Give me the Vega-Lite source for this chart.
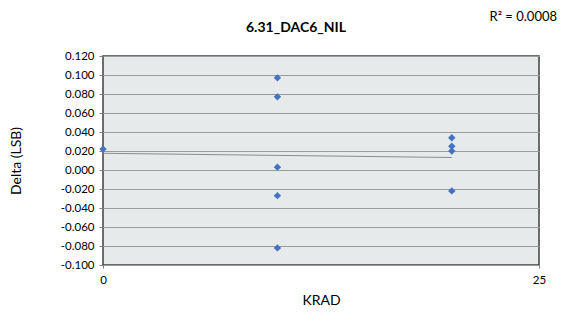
{
  "$schema": "https://vega.github.io/schema/vega-lite/v6.json",
  "width": 436,
  "height": 209,
  "autosize": {"type": "none"},
  "padding": {"left": 103, "top": 56, "right": 23, "bottom": 70},
  "background": "white",
  "title": {
    "text": "6.31_DAC6_NIL",
    "font": "Lato",
    "fontSize": 14,
    "fontWeight": "bold",
    "color": "#000000",
    "anchor": "middle",
    "frame": "group",
    "dx": -25,
    "offset": -24
  },
  "config": {
    "font": "Lato",
    "view": {"fill": "#E6EAEA", "stroke": "#404040", "strokeWidth": 1.5},
    "axis": {
      "labelFont": "Lato",
      "titleFont": "Lato",
      "labelColor": "#000000",
      "titleColor": "#000000",
      "labelFontSize": 11.5,
      "titleFontSize": 14,
      "titleFontWeight": "normal",
      "domain": false,
      "tickColor": "#7F7F7F",
      "tickSize": 4,
      "labelOverlap": false,
      "labelFlush": false
    }
  },
  "data": {
    "values": [
      {"krad": 0, "delta": 0.022},
      {"krad": 10, "delta": 0.097},
      {"krad": 10, "delta": 0.077},
      {"krad": 10, "delta": 0.003},
      {"krad": 10, "delta": -0.027},
      {"krad": 10, "delta": -0.082},
      {"krad": 20, "delta": 0.034},
      {"krad": 20, "delta": 0.025},
      {"krad": 20, "delta": 0.020},
      {"krad": 20, "delta": -0.022}
    ]
  },
  "layer": [
    {
      "transform": [{"regression": "delta", "on": "krad", "extent": [0, 20]}],
      "mark": {"type": "line", "color": "#8C8C8C", "strokeWidth": 1},
      "encoding": {
        "x": {"field": "krad", "type": "quantitative"},
        "y": {"field": "delta", "type": "quantitative"}
      }
    },
    {
      "mark": {"type": "point", "shape": "diamond", "filled": true, "color": "#4472C4", "size": 55, "opacity": 1},
      "encoding": {
        "x": {
          "field": "krad",
          "type": "quantitative",
          "scale": {"domain": [0, 25], "nice": false, "zero": false},
          "axis": {"values": [0, 25], "tickCount": 2, "title": "KRAD", "grid": false, "labelPadding": 6, "titlePadding": 8, "tickSize": 3}
        },
        "y": {
          "field": "delta",
          "type": "quantitative",
          "scale": {"domain": [-0.1, 0.12], "nice": false, "zero": false},
          "axis": {
            "values": [-0.1, -0.08, -0.06, -0.04, -0.02, 0, 0.02, 0.04, 0.06, 0.08, 0.1, 0.12],
            "tickCount": 12,
            "labelExpr": "replace(format(datum.value, '.3f'), '\u2212', '-')",
            "title": "Delta (LSB)",
            "grid": true,
            "gridColor": "#9A9A9A",
            "gridWidth": 1,
            "labelPadding": 5,
            "titlePadding": 37
          }
        }
      }
    },
    {
      "data": {"values": [{"label": "R² = 0.0008"}]},
      "mark": {"type": "text", "align": "right", "baseline": "middle", "dx": 18, "font": "Lato", "fontSize": 13, "fontWeight": "normal", "color": "#000000", "clip": false},
      "encoding": {
        "text": {"field": "label"},
        "x": {"datum": 25, "type": "quantitative"},
        "y": {"datum": 0.161, "type": "quantitative"}
      }
    }
  ]
}
